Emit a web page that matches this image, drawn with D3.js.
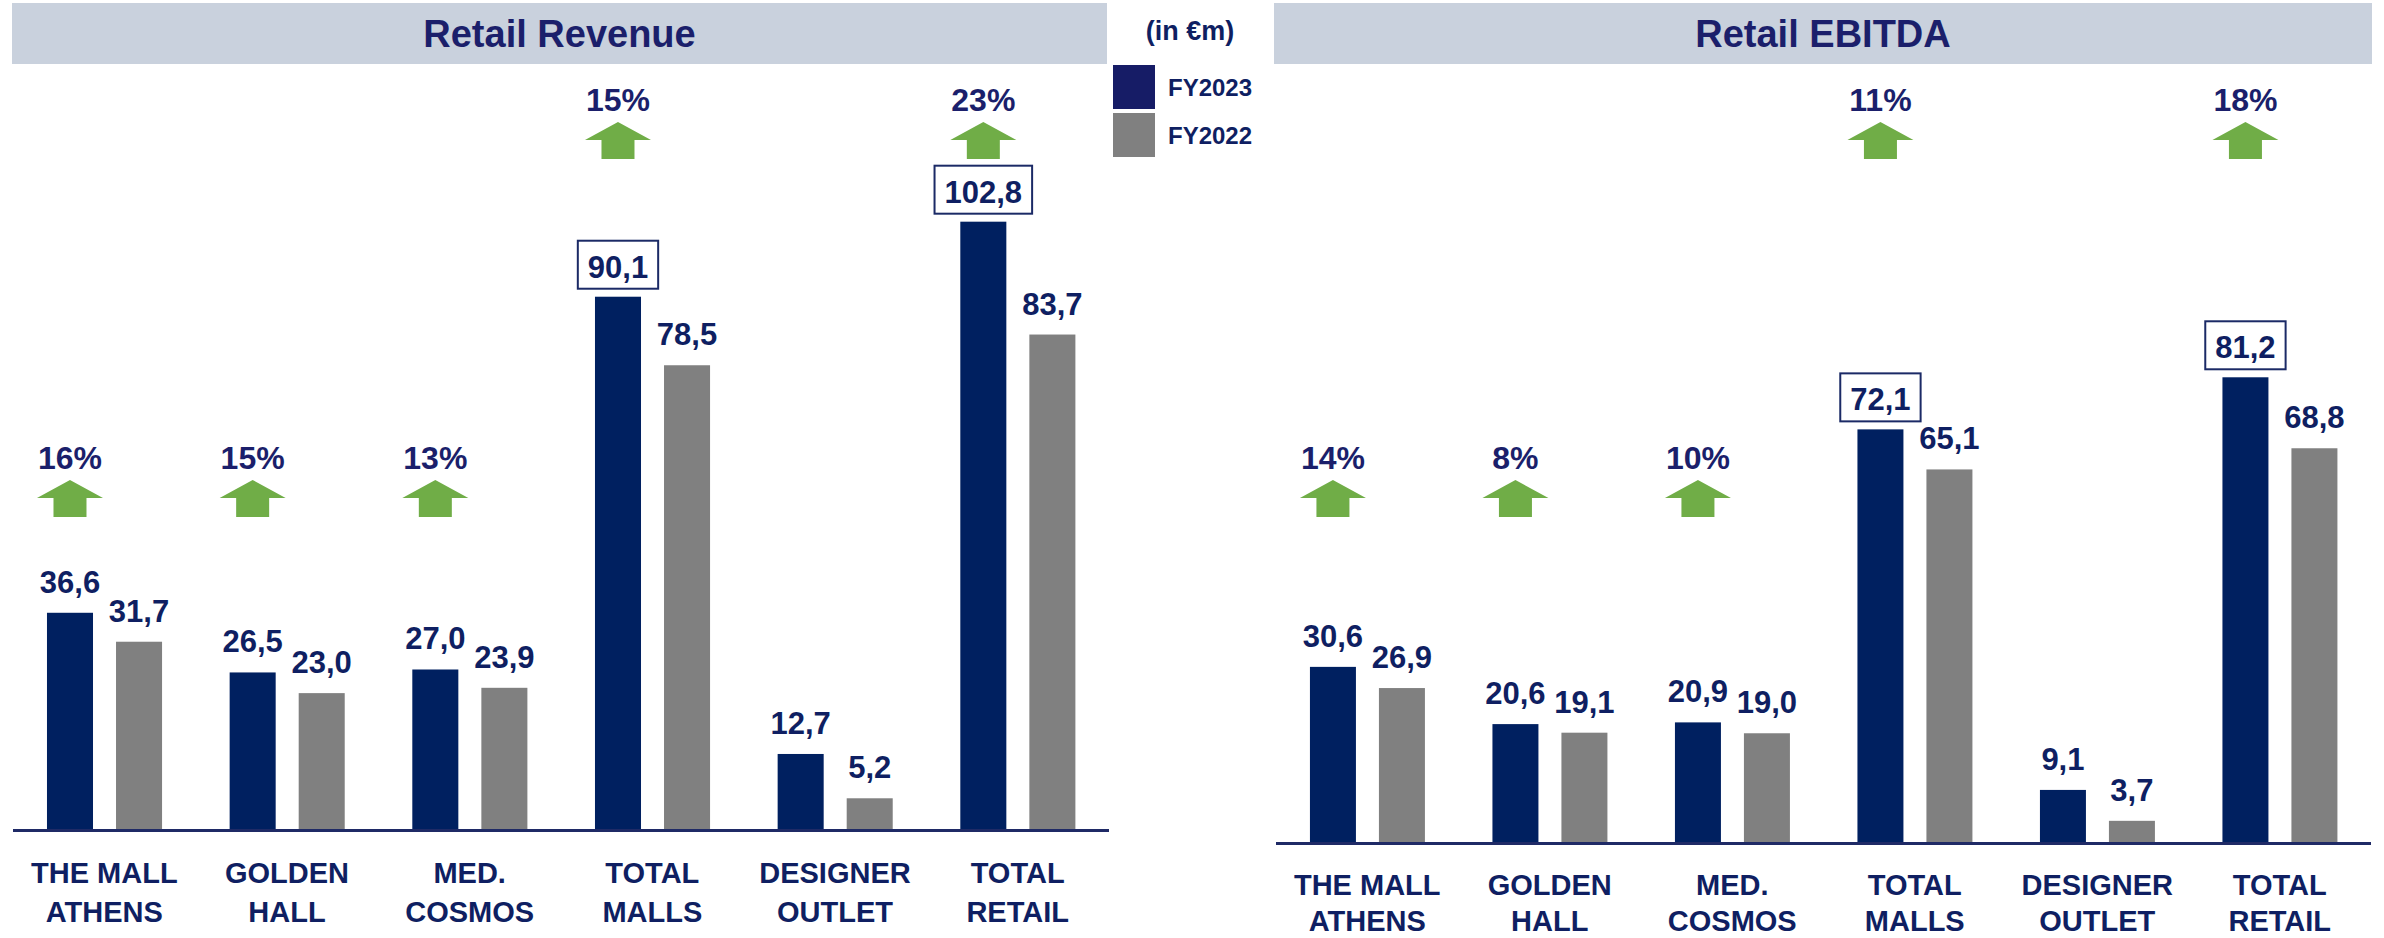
<!DOCTYPE html>
<html>
<head>
<meta charset="utf-8">
<script src="https://cdn.jsdelivr.net/npm/d3@7"></script>
<style>
  html, body { margin: 0; padding: 0; background: #ffffff; }
  svg { display: block; }
</style>
</head>
<body>
<svg id="chart" width="2384" height="938"></svg>
<script>
// ---------- DATA ----------
const categories = [
  ["THE MALL", "ATHENS"],
  ["GOLDEN", "HALL"],
  ["MED.", "COSMOS"],
  ["TOTAL", "MALLS"],
  ["DESIGNER", "OUTLET"],
  ["TOTAL", "RETAIL"]
];
const seriesNames = ["FY2023", "FY2022"];
const revenueFY2023 = [36.6, 26.5, 27.0, 90.1, 12.7, 102.8];
const revenueFY2022 = [31.7, 23.0, 23.9, 78.5, 5.2, 83.7];
const revenueGrowth = ["16%", "15%", "13%", "15%", null, "23%"];
const ebitdaFY2023 = [30.6, 20.6, 20.9, 72.1, 9.1, 81.2];
const ebitdaFY2022 = [26.9, 19.1, 19.0, 65.1, 3.7, 68.8];
const ebitdaGrowth = ["14%", "8%", "10%", "11%", null, "18%"];
const boxedCategories = [3, 5];   // totals shown with a framed label
const upperGrowthRow = [3, 5];    // growth badges placed in the upper row

// ---------- STYLE ----------
const C_NAVY = "#002060";
const C_GRAY = "#808080";
const C_TEXT = "#0f1f62";
const C_TITLE = "#1b1f6b";
const C_HEADER = "#c9d1dd";
const C_GREEN = "#70ad47";
const C_AXIS = "#1f2a66";
const FONT = "'Liberation Sans', Arial, sans-serif";

const svg = d3.select("#chart");
const fmt = v => d3.format(".1f")(v).replace(".", ",");

function panel(opts) {
  const g = svg.append("g");
  // header band
  g.append("rect")
    .attr("x", opts.headerX0).attr("y", 3)
    .attr("width", opts.headerX1 - opts.headerX0).attr("height", 61)
    .attr("fill", C_HEADER);
  g.append("text")
    .attr("x", (opts.headerX0 + opts.headerX1) / 2).attr("y", 47)
    .attr("text-anchor", "middle")
    .attr("font-family", FONT).attr("font-weight", "bold")
    .attr("font-size", 38).attr("fill", C_TITLE)
    .text(opts.title);

  const x0 = d3.scaleBand().domain(d3.range(categories.length))
    .range([opts.axisX0, opts.axisX1]).padding(0);
  const bw = x0.bandwidth();
  const x1 = d3.scaleBand().domain(seriesNames)
    .range([bw * 0.186, bw * 0.816]).paddingInner(1 / 3).paddingOuter(0);
  const y = d3.scaleLinear().domain([0, 130]).range([opts.baseY, opts.topY]);

  const data = categories.map((c, i) => ({
    i, cat: c, growth: opts.growth[i],
    vals: [
      { s: "FY2023", v: opts.a[i] },
      { s: "FY2022", v: opts.b[i] }
    ]
  }));

  const grp = g.selectAll("g.grp").data(data).join("g")
    .attr("class", "grp")
    .attr("transform", d => `translate(${x0(d.i)},0)`);

  // bars
  grp.selectAll("rect.bar").data(d => d.vals.map(v => ({ ...v, i: d.i }))).join("rect")
    .attr("class", "bar")
    .attr("x", d => x1(d.s))
    .attr("width", x1.bandwidth())
    .attr("y", d => y(d.v))
    .attr("height", d => y(0) - y(d.v))
    .attr("fill", d => d.s === "FY2023" ? C_NAVY : C_GRAY);

  // value labels
  grp.each(function (d) {
    const gg = d3.select(this);
    d.vals.forEach(v => {
      const cx = x1(v.s) + x1.bandwidth() / 2;
      const top = y(v.v);
      const boxed = v.s === "FY2023" && boxedCategories.includes(d.i);
      if (boxed) {
        const t = gg.append("text")
          .attr("x", cx).attr("y", top - 19)
          .attr("text-anchor", "middle")
          .attr("font-family", FONT).attr("font-weight", "bold")
          .attr("font-size", 31).attr("fill", C_TEXT)
          .text(fmt(v.v));
        const w = t.node().getComputedTextLength() + 20;
        gg.insert("rect", "text")
          .attr("x", cx - w / 2).attr("y", top - 8 - 48)
          .attr("width", w).attr("height", 48)
          .attr("fill", "#ffffff")
          .attr("stroke", "#1b2a66").attr("stroke-width", 2);
        gg.node().appendChild(t.node());
      } else {
        gg.append("text")
          .attr("x", cx).attr("y", top - 20)
          .attr("text-anchor", "middle")
          .attr("font-family", FONT).attr("font-weight", "bold")
          .attr("font-size", 31).attr("fill", C_TEXT)
          .text(fmt(v.v));
      }
    });

    // growth badge
    if (d.growth) {
      const cx = x1("FY2023") + x1.bandwidth() / 2;
      const base = upperGrowthRow.includes(d.i) ? 111 : 469;
      gg.append("text")
        .attr("x", cx).attr("y", base)
        .attr("text-anchor", "middle")
        .attr("font-family", FONT).attr("font-weight", "bold")
        .attr("font-size", 32).attr("fill", C_TITLE)
        .text(d.growth);
      const tip = base + 11;
      const p = d3.path();
      p.moveTo(cx, tip);
      p.lineTo(cx + 33, tip + 18);
      p.lineTo(cx + 16.5, tip + 18);
      p.lineTo(cx + 16.5, tip + 37);
      p.lineTo(cx - 16.5, tip + 37);
      p.lineTo(cx - 16.5, tip + 18);
      p.lineTo(cx - 33, tip + 18);
      p.closePath();
      gg.append("path").attr("d", p.toString()).attr("fill", C_GREEN);
    }

    // category labels
    const lx = bw / 2;
    d.cat.forEach((line, k) => {
      gg.append("text")
        .attr("x", lx).attr("y", opts.labelY + k * opts.labelGap)
        .attr("text-anchor", "middle")
        .attr("font-family", FONT).attr("font-weight", "bold")
        .attr("font-size", 29).attr("fill", C_TEXT)
        .text(line);
    });
  });

  // axis baseline
  g.append("line")
    .attr("x1", opts.axisX0).attr("x2", opts.axisX1)
    .attr("y1", y(0) + 1.5).attr("y2", y(0) + 1.5)
    .attr("stroke", C_AXIS).attr("stroke-width", 3);
}

panel({
  title: "Retail Revenue",
  headerX0: 12, headerX1: 1107,
  axisX0: 13, axisX1: 1109,
  baseY: 829, topY: 61,
  labelY: 883, labelGap: 39,
  a: revenueFY2023, b: revenueFY2022, growth: revenueGrowth
});

panel({
  title: "Retail EBITDA",
  headerX0: 1274, headerX1: 2372,
  axisX0: 1276, axisX1: 2371,
  baseY: 842, topY: 98,
  labelY: 895, labelGap: 36,
  a: ebitdaFY2023, b: ebitdaFY2022, growth: ebitdaGrowth
});

// ---------- LEGEND ----------
const legend = svg.append("g");
legend.append("text")
  .attr("x", 1190).attr("y", 40)
  .attr("text-anchor", "middle")
  .attr("font-family", FONT).attr("font-weight", "bold")
  .attr("font-size", 27).attr("fill", C_TEXT)
  .text("(in €m)");
const legendColors = ["#161c66", C_GRAY];
seriesNames.forEach((s, k) => {
  legend.append("rect")
    .attr("x", 1113).attr("y", 65 + k * 48)
    .attr("width", 42).attr("height", 44)
    .attr("fill", legendColors[k]);
  legend.append("text")
    .attr("x", 1168).attr("y", 96 + k * 48)
    .attr("font-family", FONT).attr("font-weight", "bold")
    .attr("font-size", 24).attr("fill", C_TEXT)
    .text(s);
});
</script>
</body>
</html>
